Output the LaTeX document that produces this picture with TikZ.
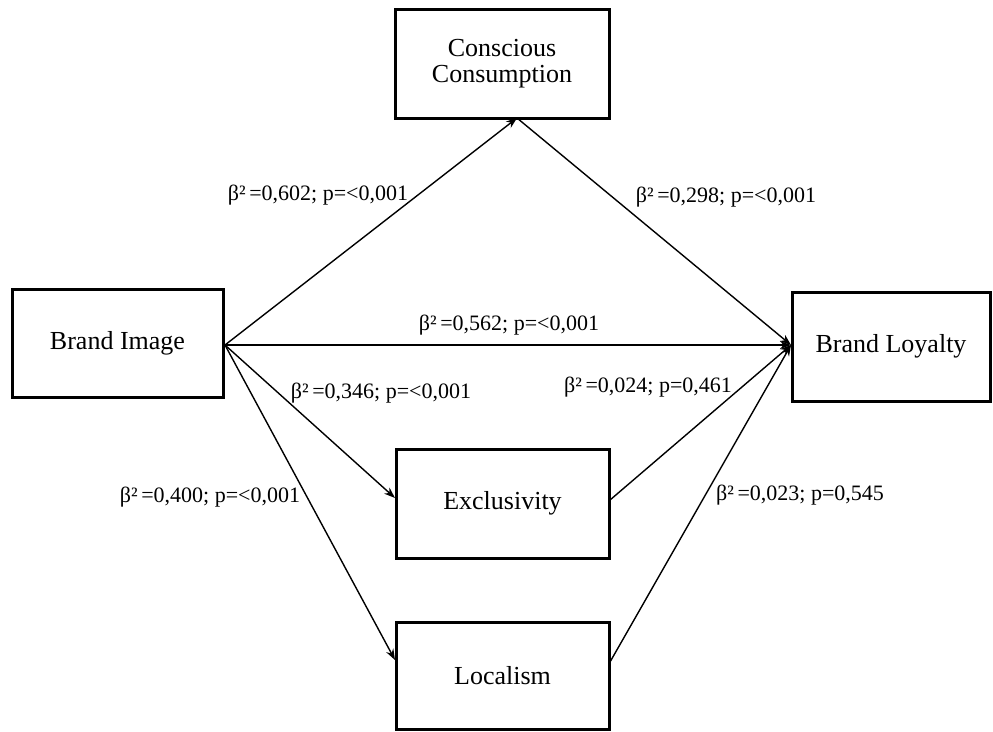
\documentclass[tikz,border=0pt]{standalone}
\usepackage{fontspec}
\setmainfont{Liberation Serif}
\usetikzlibrary{arrows.meta}
\begin{document}
\begin{tikzpicture}[x=1pt,y=-1pt,
  box/.style={draw,line width=3pt,rectangle,inner sep=0pt,align=center,font=\fontsize{26}{26}\selectfont},
  conn/.style={line width=1.4pt,-{Stealth[length=11pt,width=8pt]}},
  lbl/.style={inner sep=0pt,font=\fontsize{22}{26}\selectfont}]
\useasboundingbox (0,0) rectangle (993,731);
\node[box,minimum width=214pt,minimum height=109pt] (cc) at (502,63.5) {Conscious\\Consumption};
\node[box,minimum width=211pt,minimum height=108pt] (bi) at (117.5,343) {Brand Image};
\node[box,minimum width=198pt,minimum height=109pt] (bl) at (891,346.5) {Brand Loyalty};
\node[box,minimum width=213pt,minimum height=109pt] (ex) at (502.5,503.5) {Exclusivity};
\node[box,minimum width=213pt,minimum height=107pt] (lo) at (502.5,675.5) {Localism};
\coordinate (bio) at (225,345);
\coordinate (ccb) at (517,118);
\coordinate (bli) at (791,345);
\coordinate (exi) at (395,498);
\coordinate (exo) at (610,500);
\coordinate (loi) at (395,660);
\coordinate (loo) at (610,662);
\draw[conn] (bio) -- (ccb);
\draw[conn] (ccb) -- (bli);
\draw[conn] (bio) -- (bli);
\draw[conn] (bio) -- (exi);
\draw[conn] (bio) -- (loi);
\draw[conn] (exo) -- (bli);
\draw[conn] (loo) -- (bli);
\node[lbl] (l1) at (318,195) {β²\,=0,602; p=<0,001};
\node[lbl] (l2) at (726,197) {β²\,=0,298; p=<0,001};
\node[lbl] (l3) at (509,325) {β²\,=0,562; p=<0,001};
\node[lbl] (l4) at (381,393) {β²\,=0,346; p=<0,001};
\node[lbl] (l5) at (648,387) {β²\,=0,024; p=0,461};
\node[lbl] (l6) at (210,497) {β²\,=0,400; p=<0,001};
\node[lbl] (l7) at (800,495) {β²\,=0,023; p=0,545};
\end{tikzpicture}
\end{document}
